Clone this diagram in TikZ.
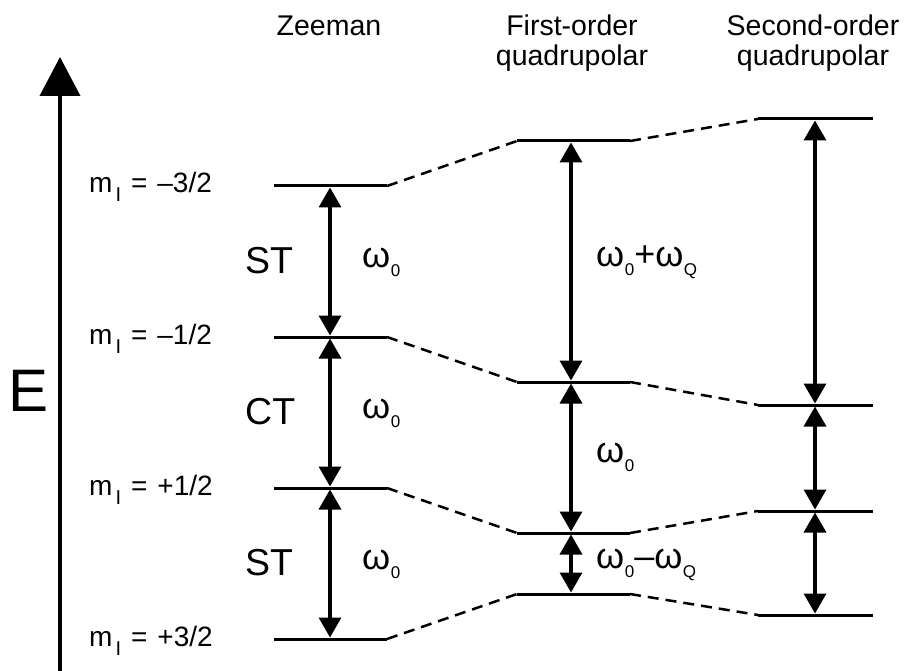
\documentclass[tikz,border=0pt]{standalone}
\usepackage{fontspec}
\setmainfont{Liberation Sans}
\usetikzlibrary{arrows.meta}
\newcommand{\omsub}[1]{ω\kern0.5pt\raisebox{-9pt}{\fontsize{17}{17}\selectfont #1}}
\newcommand{\mlab}[1]{m\kern3pt\raisebox{-9pt}{\fontsize{20}{20}\selectfont I}\kern10pt=\kern10pt#1}
\begin{document}
\begin{tikzpicture}[x=1pt,y=-1pt,
  level/.style={line width=3pt},
  link/.style={line width=2.5pt,dash pattern=on 11pt off 7pt},
  trans/.style={line width=3.5pt,{Triangle[width=22pt,length=20pt]}-{Triangle[width=22pt,length=20pt]},shorten <=1.5pt,shorten >=1.5pt},
  axisline/.style={line width=4pt,-{Triangle[width=40pt,length=39pt]}},
  title/.style={font=\fontsize{28.5}{30}\selectfont,inner sep=0pt,align=center},
  mlabel/.style={font=\fontsize{28}{30}\selectfont,inner sep=0pt,anchor=base west},
  tlabel/.style={font=\fontsize{37.5}{40}\selectfont,inner sep=0pt,anchor=base west},
  wlabel/.style={font=\fontsize{36}{40}\selectfont,inner sep=0pt,anchor=base west}]
\useasboundingbox (0,0) rectangle (910,671);
% coordinates of the levels
\foreach \n/\y in {1/186,2/337,3/488,4/639}{
  \coordinate (zl\n) at (274,\y); \coordinate (zr\n) at (387,\y); \coordinate (za\n) at (330,\y);}
\foreach \n/\y in {1/141,2/382,3/533,4/594}{
  \coordinate (fl\n) at (517,\y); \coordinate (fr\n) at (630,\y); \coordinate (fa\n) at (571,\y);}
\foreach \n/\y in {1/119,2/405,3/511,4/615}{
  \coordinate (sl\n) at (758,\y); \coordinate (sr\n) at (873,\y); \coordinate (sa\n) at (815,\y);}
% energy axis
\coordinate (ebot) at (60,671);
\coordinate (etop) at (60,57);
\draw[axisline] (ebot) -- (etop);
\node[inner sep=0pt,anchor=base west,font=\fontsize{60}{60}\selectfont] (E) at (8,411) {E};
% titles
\node[title,anchor=base] (tz) at (329,36) {Zeeman};
\node[title,anchor=base] (tf) at (572,66) {First-order\\quadrupolar};
\node[title,anchor=base] (ts) at (813,66) {Second-order\\quadrupolar};
% levels
\foreach \n in {1,2,3,4}{
  \draw[level] (zl\n) -- (zr\n);
  \draw[level] (fl\n) -- (fr\n);
  \draw[level] (sl\n) -- (sr\n);
  \draw[link] (zr\n) -- (fl\n);
  \draw[link] (fr\n) -- (sl\n);}
% transitions
\draw[trans] (za1) -- (za2);
\draw[trans] (za2) -- (za3);
\draw[trans] (za3) -- (za4);
\draw[trans] (fa1) -- (fa2);
\draw[trans] (fa2) -- (fa3);
\draw[trans] (fa3) -- (fa4);
\draw[trans] (sa1) -- (sa2);
\draw[trans] (sa2) -- (sa3);
\draw[trans] (sa3) -- (sa4);
% m_I labels
\node[mlabel] (m1) at (89,193) {\mlab{–3/2}};
\node[mlabel] (m2) at (89,344) {\mlab{–1/2}};
\node[mlabel] (m3) at (89,495) {\mlab{+1/2}};
\node[mlabel] (m4) at (89,646) {\mlab{+3/2}};
% ST / CT labels
\node[tlabel] (st1) at (245,273) {ST};
\node[tlabel] (ct) at (245,424) {CT};
\node[tlabel] (st2) at (245,575) {ST};
% frequency labels
\node[wlabel] (w1) at (362,267) {\omsub{0}};
\node[wlabel] (w2) at (362,418) {\omsub{0}};
\node[wlabel] (w3) at (362,569) {\omsub{0}};
\node[wlabel] (w4) at (596,266) {\omsub{0}+\omsub{Q}};
\node[wlabel] (w5) at (596,462) {\omsub{0}};
\node[wlabel] (w6) at (596,568) {\omsub{0}–\omsub{Q}};
\end{tikzpicture}
\end{document}
